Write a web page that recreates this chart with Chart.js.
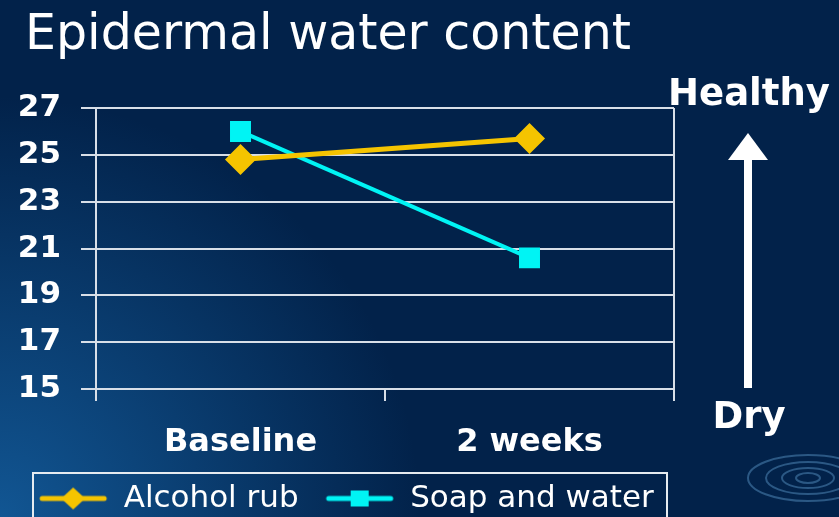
<!DOCTYPE html>
<html>
<head>
<meta charset="utf-8">
<script src="https://cdn.jsdelivr.net/npm/chart.js@4"></script>
<style>
  html, body { margin: 0; padding: 0; background: #03254c; }
  #wrap { width: 839px; height: 517px; }
</style>
</head>
<body>
<div id="wrap"><canvas id="chart" width="839" height="517"></canvas></div>
<script>
var categories = ['Baseline', '2 weeks'];
var alcoholRub = [24.8, 25.7];
var soapAndWater = [26.0, 20.6];
var yTicks = [15, 17, 19, 21, 23, 25, 27];

var gold = '#f5c400';
var cyan = '#00f4f4';
var fam = '"DejaVu Sans", Verdana, sans-serif';

// little line+marker pictures for the legend
function legendIcon(color, shape) {
    var c = document.createElement('canvas');
    c.width = 70; c.height = 24;
    var g = c.getContext('2d');
    g.strokeStyle = color; g.lineWidth = 5; g.lineCap = 'round';
    g.beginPath(); g.moveTo(4, 12); g.lineTo(66, 12); g.stroke();
    g.fillStyle = color;
    g.beginPath();
    if (shape == 'diamond') {
        g.moveTo(35, 1); g.lineTo(47, 12); g.lineTo(35, 23); g.lineTo(23, 12);
    } else {
        g.rect(26, 4, 18, 16);
    }
    g.closePath(); g.fill();
    return c;
}

var decor = {
    id: 'decor',
    afterLayout: function(chart) {
        // nudge the legend a little to the right, like the slide
        chart.legend.left += 9;
        chart.legend.right += 9;
    },
    beforeDraw: function(chart) {
        var ctx = chart.ctx;
        ctx.save();
        ctx.fillStyle = '#02224a';
        ctx.fillRect(0, 0, chart.width, chart.height);
        var grd = ctx.createRadialGradient(0, 517, 0, 0, 517, 420);
        grd.addColorStop(0, 'rgba(20,95,160,0.85)');
        grd.addColorStop(1, 'rgba(20,95,160,0)');
        ctx.fillStyle = grd;
        ctx.fillRect(0, 0, chart.width, chart.height);
        // ripples bottom right
        ctx.strokeStyle = 'rgba(120,190,240,0.35)';
        ctx.lineWidth = 2;
        [[12, 5], [26, 10], [42, 16], [60, 23]].forEach(function(r) {
            ctx.beginPath();
            ctx.ellipse(808, 478, r[0], r[1], 0, 0, Math.PI * 2);
            ctx.stroke();
        });
        ctx.restore();
    },
    afterDraw: function(chart) {
        var ctx = chart.ctx, a = chart.chartArea;
        ctx.save();
        // title
        ctx.fillStyle = '#ffffff';
        ctx.font = '49px ' + fam;
        ctx.textAlign = 'left'; ctx.textBaseline = 'alphabetic';
        ctx.fillText('Epidermal water content', 25, 49);
        // right border of plot area
        ctx.strokeStyle = '#d8dfe8'; ctx.lineWidth = 2;
        ctx.beginPath(); ctx.moveTo(a.right, a.top); ctx.lineTo(a.right, a.bottom); ctx.stroke();
        // box round the legend
        ctx.strokeStyle = '#e6ebf0'; ctx.lineWidth = 2;
        ctx.strokeRect(33, 473, 634, 60);
        // healthy / dry arrow
        ctx.font = 'bold 37px ' + fam;
        ctx.textAlign = 'center';
        ctx.fillText('Healthy', 749, 105);
        ctx.fillText('Dry', 749, 428);
        ctx.fillRect(744, 156, 8, 232);
        ctx.beginPath(); ctx.moveTo(748, 133); ctx.lineTo(768, 160); ctx.lineTo(728, 160); ctx.closePath(); ctx.fill();
        ctx.restore();
    }
};

var ctx = document.getElementById('chart').getContext('2d');
new Chart(ctx, {
    type: 'line',
    data: {
        labels: categories,
        datasets: [
            { label: 'Alcohol rub', data: alcoholRub, borderColor: gold, backgroundColor: gold,
              borderWidth: 5, pointStyle: 'rectRot', pointRadius: 12, pointHoverRadius: 12 },
            { label: 'Soap and water', data: soapAndWater, borderColor: cyan, backgroundColor: cyan,
              borderWidth: 4, pointStyle: 'rect', pointRadius: 12, pointHoverRadius: 12 }
        ]
    },
    options: {
        responsive: false,
        animation: false,
        layout: { padding: { left: 0, right: 165, top: 108, bottom: -7 } },
        plugins: {
            title: { display: false },
            legend: {
                position: 'bottom',
                labels: {
                    color: '#ffffff',
                    font: { family: fam, size: 31 },
                    usePointStyle: true, pointStyleWidth: 70, padding: 26,
                    generateLabels: function(chart) {
                        return chart.data.datasets.map(function(ds, i) {
                            return {
                                text: ds.label, datasetIndex: i, fontColor: '#ffffff',
                                pointStyle: legendIcon(ds.borderColor, i == 0 ? 'diamond' : 'square'),
                                lineWidth: 0, strokeStyle: 'transparent', fillStyle: ds.borderColor
                            };
                        });
                    }
                }
            },
            tooltip: { enabled: false }
        },
        scales: {
            x: {
                offset: true,
                afterFit: function(axis) { axis.height = 68; },
                grid: { offset: true, drawOnChartArea: false, color: '#d8dfe8', lineWidth: 2, tickLength: 12 },
                border: { color: '#d8dfe8', width: 2 },
                ticks: { color: '#ffffff', padding: 22,
                         font: { family: fam, size: 32, weight: 'bold' } }
            },
            y: {
                min: 15, max: 27,
                afterBuildTicks: function(axis) { axis.ticks = yTicks.map(function(v) { return { value: v }; }); },
                afterFit: function(axis) { axis.width = 96; },
                grid: { color: '#d8dfe8', lineWidth: 2, tickLength: 15 },
                border: { color: '#d8dfe8', width: 2 },
                ticks: { color: '#ffffff', padding: 20,
                         font: { family: fam, size: 31, weight: 'bold' } }
            }
        }
    },
    plugins: [decor]
});
</script>
</body>
</html>
